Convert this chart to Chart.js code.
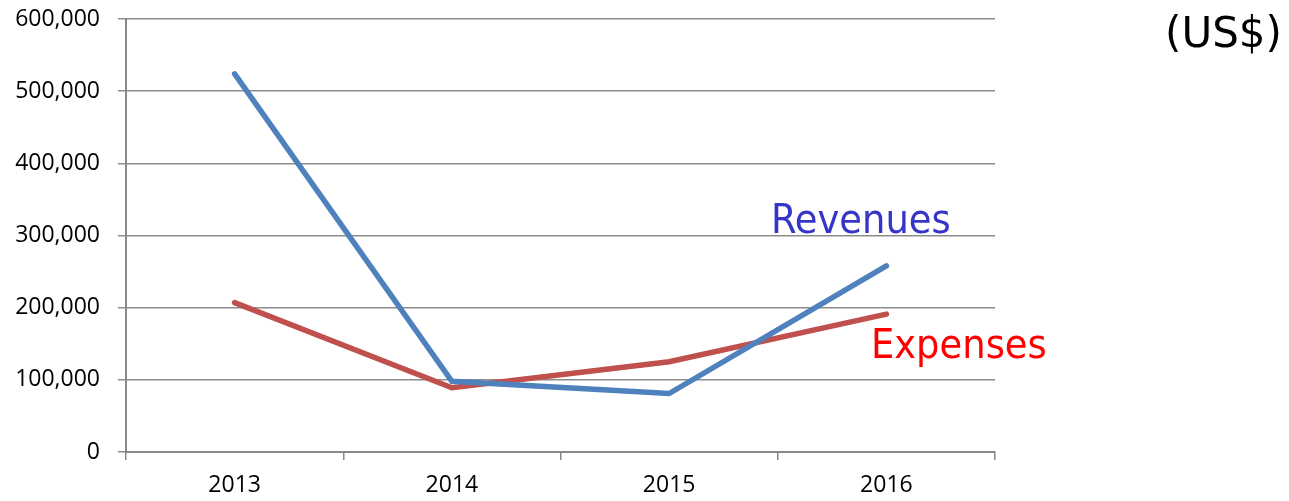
<!DOCTYPE html>
<html>
<head>
<meta charset="utf-8">
<script src="https://cdn.jsdelivr.net/npm/chart.js@4.4.0/dist/chart.umd.min.js"></script>
<style>
html,body{margin:0;padding:0;background:#fff;}
#wrap{width:1289px;height:501px;position:relative;}
</style>
</head>
<body>
<div id="wrap"><canvas id="c" width="1289" height="501"></canvas></div>
<script>
const categories = ["2013", "2014", "2015", "2016"];
const revenues = [524000, 98000, 81000, 258000];
const expenses = [207000, 89000, 125000, 191000];
const yTicks = [0, 100000, 200000, 300000, 400000, 500000, 600000];

const textLabels = {
  id: 'textLabels',
  afterDraw(chart) {
    const ctx = chart.ctx;
    ctx.save();
    ctx.textBaseline = 'alphabetic';
    ctx.textAlign = 'left';
    ctx.font = '41px "DejaVu Sans Condensed", "DejaVu Sans"';
    ctx.fillStyle = '#3535C8';
    ctx.fillText('Revenues', 771, 233);
    ctx.fillStyle = '#FF0000';
    ctx.fillText('Expenses', 871, 358);
    ctx.font = '42px "DejaVu Sans"';
    ctx.fillStyle = '#000000';
    ctx.fillText('(US$)', 1165, 47);
    ctx.restore();
  }
};

new Chart(document.getElementById('c'), {
  type: 'line',
  data: {
    labels: categories,
    datasets: [
      { label: 'Revenues', data: revenues, borderColor: '#4F81BD', borderWidth: 5.5, pointRadius: 0, tension: 0, borderCapStyle: 'round', borderJoinStyle: 'miter' },
      { label: 'Expenses', data: expenses, borderColor: '#C0504D', borderWidth: 5.5, pointRadius: 0, tension: 0, borderCapStyle: 'round', borderJoinStyle: 'miter' }
    ]
  },
  options: {
    responsive: false,
    animation: false,
    layout: { padding: { top: 19, right: 294, left: 0, bottom: 0 } },
    plugins: { legend: { display: false }, tooltip: { enabled: false } },
    scales: {
      x: {
        type: 'category',
        offset: true,
        grid: { offset: true, drawOnChartArea: false, drawTicks: true, tickLength: 8, color: '#888888', lineWidth: 1.5 },
        border: { display: true, color: '#888888', width: 2 },
        ticks: { color: '#000', font: { family: '"Open Sans"', size: 23 }, padding: 12, maxRotation: 0 },
        afterFit(s) { s.height = 49; s.paddingLeft = 0; s.paddingRight = 0; }
      },
      y: {
        min: 0, max: 600000,
        afterBuildTicks(s) { s.ticks = yTicks.map(v => ({ value: v })); },
        grid: { color: '#8c8c8c', lineWidth: 1.5, drawTicks: true, tickLength: 8 },
        border: { display: true, color: '#888888', width: 2 },
        ticks: { color: '#000', font: { family: '"Open Sans"', size: 23 }, padding: 18,
          callback(v) { return Number(v).toLocaleString('en-US'); } },
        afterFit(s) { s.width = 126; s.paddingTop = 0; s.paddingBottom = 0; }
      }
    }
  },
  plugins: [textLabels]
});
</script>
</body>
</html>
